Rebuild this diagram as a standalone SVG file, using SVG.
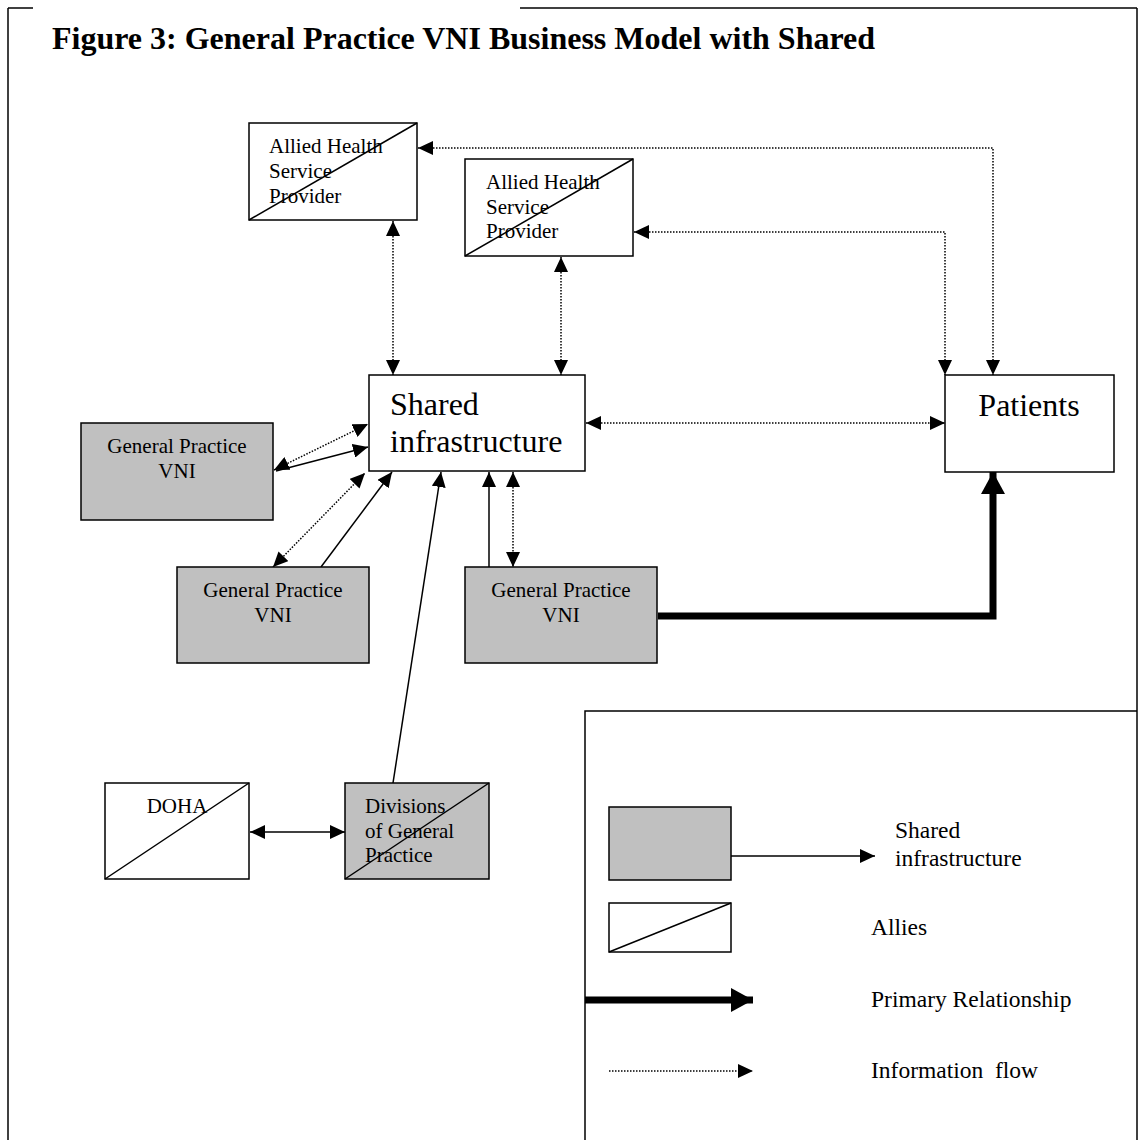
<svg xmlns="http://www.w3.org/2000/svg" width="1143" height="1140" viewBox="0 0 1143 1140">
<style>
  .box{stroke:#000;stroke-width:1.5;fill:#fff}
  .gray{fill:#c0c0c0}
  .diag{stroke:#000;stroke-width:1.5;fill:none}
  .t{font-family:"Liberation Serif","Times New Roman",serif;font-size:21px;fill:#000}
  .big{font-family:"Liberation Serif","Times New Roman",serif;font-size:32px;fill:#000}
  .lg{font-family:"Liberation Serif","Times New Roman",serif;font-size:23.5px;fill:#000;white-space:pre}
  .title{font-family:"Liberation Serif","Times New Roman",serif;font-size:32px;font-weight:bold;fill:#000}
  .solid{stroke:#000;stroke-width:1.5;fill:none}
  .dot{stroke:#000;stroke-width:1.5;fill:none;stroke-dasharray:1.5 1.5}
  .thick{stroke:#000;stroke-width:7;fill:none}
  .frame{stroke:#000;stroke-width:1.5;fill:none}
</style>
<defs>
  <marker id="ah" markerUnits="userSpaceOnUse" markerWidth="15" markerHeight="14" refX="15" refY="7" orient="auto-start-reverse">
    <path d="M0,0 L15,7 L0,14 z" fill="#000"/>
  </marker>
  <marker id="ahb" markerUnits="userSpaceOnUse" markerWidth="23" markerHeight="24" refX="22" refY="12" orient="auto-start-reverse">
    <path d="M0,0 L22,12 L0,24 z" fill="#000"/>
  </marker>
</defs>
<rect x="0" y="0" width="1143" height="1140" fill="#fff"/>
<g id="frame">
  <line class="frame" x1="8" y1="8" x2="8" y2="1140"/>
  <line class="frame" x1="1137" y1="8" x2="1137" y2="1140"/>
  <line class="frame" x1="8" y1="8" x2="33" y2="8"/>
  <line class="frame" x1="520" y1="8" x2="1137" y2="8"/>
</g>
<text class="title" x="52" y="49">Figure 3: General Practice VNI Business Model with Shared</text>

<g id="connectors">
  <line class="dot" x1="393" y1="221" x2="393" y2="375" marker-start="url(#ah)" marker-end="url(#ah)"/>
  <line class="dot" x1="561" y1="257" x2="561" y2="375" marker-start="url(#ah)" marker-end="url(#ah)"/>
  <polyline class="dot" points="418,148 993,148 993,375" marker-start="url(#ah)" marker-end="url(#ah)"/>
  <polyline class="dot" points="634,232 945,232 945,375" marker-start="url(#ah)" marker-end="url(#ah)"/>
  <line class="dot" x1="586" y1="423" x2="945" y2="423" marker-start="url(#ah)" marker-end="url(#ah)"/>
  <line class="dot" x1="274" y1="470" x2="368" y2="424" marker-start="url(#ah)" marker-end="url(#ah)"/>
  <line class="solid" x1="276" y1="471" x2="368" y2="447" marker-end="url(#ah)"/>
  <line class="dot" x1="273" y1="567" x2="365" y2="473" marker-start="url(#ah)" marker-end="url(#ah)"/>
  <line class="solid" x1="321" y1="567" x2="392" y2="472" marker-end="url(#ah)"/>
  <line class="solid" x1="393" y1="783" x2="441" y2="472" marker-end="url(#ah)"/>
  <line class="solid" x1="489" y1="567" x2="489" y2="472" marker-end="url(#ah)"/>
  <line class="dot" x1="513" y1="472" x2="513" y2="567" marker-start="url(#ah)" marker-end="url(#ah)"/>
  <polyline class="thick" points="658,616 993,616 993,472" stroke-linejoin="miter" marker-end="url(#ahb)"/>
  <line class="solid" x1="250" y1="832" x2="345" y2="832" marker-start="url(#ah)" marker-end="url(#ah)"/>
</g>

<g id="allied1">
  <rect class="box" x="249" y="123" width="168" height="97"/>
  <line class="diag" x1="249" y1="220" x2="417" y2="123"/>
  <text class="t" x="269" y="153">Allied Health</text>
  <text class="t" x="269" y="178">Service</text>
  <text class="t" x="269" y="203">Provider</text>
</g>
<g id="allied2">
  <rect class="box" x="465" y="159" width="168" height="97"/>
  <line class="diag" x1="465" y1="256" x2="633" y2="159"/>
  <text class="t" x="486" y="189">Allied Health</text>
  <text class="t" x="486" y="214">Service</text>
  <text class="t" x="486" y="238">Provider</text>
</g>
<g id="shared">
  <rect class="box" x="369" y="375" width="216" height="96"/>
  <text class="big" x="390" y="415">Shared</text>
  <text class="big" x="390" y="452">infrastructure</text>
</g>
<g id="patients">
  <rect class="box" x="945" y="375" width="169" height="97"/>
  <text class="big" x="1029" y="416" text-anchor="middle">Patients</text>
</g>
<g id="gp1">
  <rect class="box gray" x="81" y="423" width="192" height="97"/>
  <text class="t" x="177" y="453" text-anchor="middle">General Practice</text>
  <text class="t" x="177" y="478" text-anchor="middle">VNI</text>
</g>
<g id="gp2">
  <rect class="box gray" x="177" y="567" width="192" height="96"/>
  <text class="t" x="273" y="597" text-anchor="middle">General Practice</text>
  <text class="t" x="273" y="622" text-anchor="middle">VNI</text>
</g>
<g id="gp3">
  <rect class="box gray" x="465" y="567" width="192" height="96"/>
  <text class="t" x="561" y="597" text-anchor="middle">General Practice</text>
  <text class="t" x="561" y="622" text-anchor="middle">VNI</text>
</g>
<g id="doha">
  <rect class="box" x="105" y="783" width="144" height="96"/>
  <line class="diag" x1="105" y1="879" x2="249" y2="783"/>
  <text class="t" x="177" y="813" text-anchor="middle">DOHA</text>
</g>
<g id="divisions">
  <rect class="box gray" x="345" y="783" width="144" height="96"/>
  <line class="diag" x1="345" y1="879" x2="489" y2="783"/>
  <text class="t" x="365" y="813">Divisions</text>
  <text class="t" x="365" y="838">of General</text>
  <text class="t" x="365" y="862">Practice</text>
</g>

<g id="legend">
  <polyline class="frame" points="585,1140 585,711 1137,711"/>
  <rect class="box gray" x="609" y="807" width="122" height="73"/>
  <line class="solid" x1="731" y1="856" x2="875" y2="856" marker-end="url(#ah)"/>
  <text class="lg" x="895" y="838">Shared</text>
  <text class="lg" x="895" y="866">infrastructure</text>
  <rect class="box" x="609" y="903" width="122" height="49"/>
  <line class="diag" x1="609" y1="952" x2="731" y2="903"/>
  <text class="lg" x="871" y="935">Allies</text>
  <line class="thick" x1="585" y1="1000" x2="753" y2="1000" stroke-width="8" marker-end="url(#ahb)"/>
  <text class="lg" x="871" y="1007">Primary Relationship</text>
  <line class="dot" x1="609" y1="1071" x2="753" y2="1071" marker-end="url(#ah)"/>
  <text class="lg" x="871" y="1078">Information  flow</text>
</g>
</svg>
